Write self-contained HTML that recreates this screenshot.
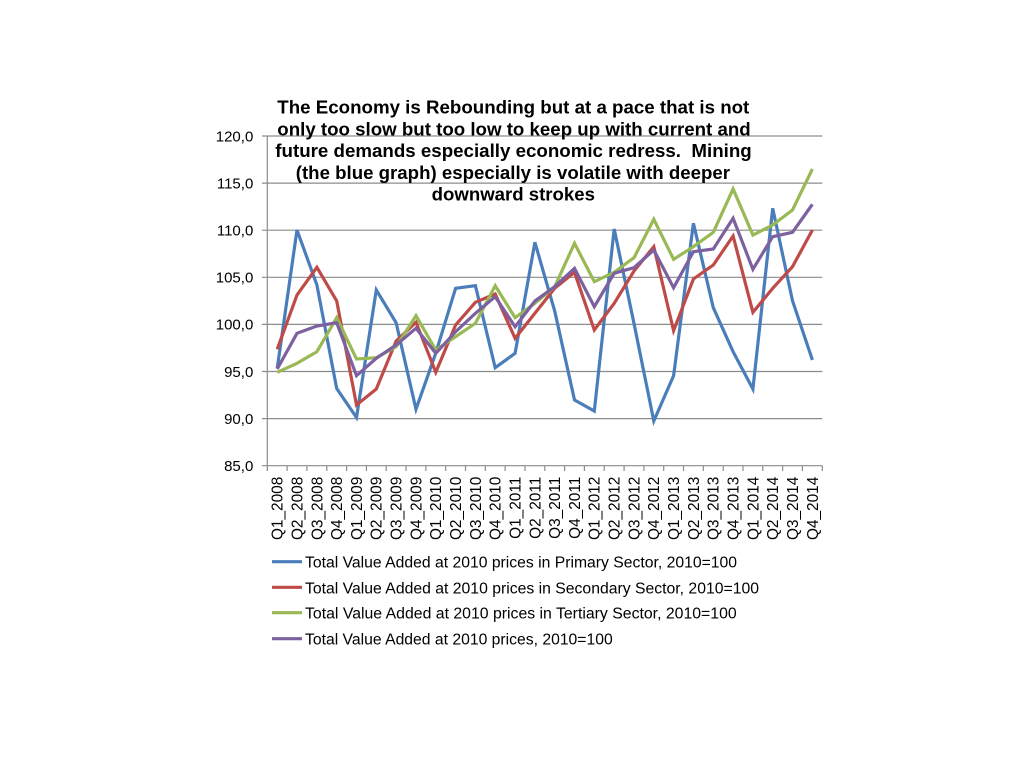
<!DOCTYPE html>
<html>
<head>
<meta charset="utf-8">
<style>
html,body{margin:0;padding:0;background:#fff;}
svg{display:block;}
text{font-family:"Liberation Sans",Arial,sans-serif;fill:#000;}
</style>
</head>
<body>
<svg width="1024" height="768" viewBox="0 0 1024 768" xmlns="http://www.w3.org/2000/svg">
<rect width="1024" height="768" fill="#fff"/>
<!-- gridlines -->
<g stroke="#8c8c8c" stroke-width="1.2" fill="none">
<line x1="262" y1="136" x2="822.3" y2="136"/>
<line x1="262" y1="183.1" x2="822.3" y2="183.1"/>
<line x1="262" y1="230.2" x2="822.3" y2="230.2"/>
<line x1="262" y1="277.3" x2="822.3" y2="277.3"/>
<line x1="262" y1="324.4" x2="822.3" y2="324.4"/>
<line x1="262" y1="371.5" x2="822.3" y2="371.5"/>
<line x1="262" y1="418.6" x2="822.3" y2="418.6"/>
<line x1="262" y1="465.7" x2="822.3" y2="465.7"/>
<line x1="267.3" y1="136" x2="267.3" y2="471"/>
</g>
<!-- x ticks -->
<g stroke="#8c8c8c" stroke-width="1.2">
<line x1="287.1" y1="465.7" x2="287.1" y2="471"/>
<line x1="306.9" y1="465.7" x2="306.9" y2="471"/>
<line x1="326.8" y1="465.7" x2="326.8" y2="471"/>
<line x1="346.6" y1="465.7" x2="346.6" y2="471"/>
<line x1="366.4" y1="465.7" x2="366.4" y2="471"/>
<line x1="386.2" y1="465.7" x2="386.2" y2="471"/>
<line x1="406.0" y1="465.7" x2="406.0" y2="471"/>
<line x1="425.9" y1="465.7" x2="425.9" y2="471"/>
<line x1="445.7" y1="465.7" x2="445.7" y2="471"/>
<line x1="465.5" y1="465.7" x2="465.5" y2="471"/>
<line x1="485.3" y1="465.7" x2="485.3" y2="471"/>
<line x1="505.1" y1="465.7" x2="505.1" y2="471"/>
<line x1="525.0" y1="465.7" x2="525.0" y2="471"/>
<line x1="544.8" y1="465.7" x2="544.8" y2="471"/>
<line x1="564.6" y1="465.7" x2="564.6" y2="471"/>
<line x1="584.4" y1="465.7" x2="584.4" y2="471"/>
<line x1="604.2" y1="465.7" x2="604.2" y2="471"/>
<line x1="624.1" y1="465.7" x2="624.1" y2="471"/>
<line x1="643.9" y1="465.7" x2="643.9" y2="471"/>
<line x1="663.7" y1="465.7" x2="663.7" y2="471"/>
<line x1="683.5" y1="465.7" x2="683.5" y2="471"/>
<line x1="703.3" y1="465.7" x2="703.3" y2="471"/>
<line x1="723.2" y1="465.7" x2="723.2" y2="471"/>
<line x1="743.0" y1="465.7" x2="743.0" y2="471"/>
<line x1="762.8" y1="465.7" x2="762.8" y2="471"/>
<line x1="782.6" y1="465.7" x2="782.6" y2="471"/>
<line x1="802.4" y1="465.7" x2="802.4" y2="471"/>
<line x1="822.3" y1="465.7" x2="822.3" y2="471"/>
</g>
<!-- y labels -->
<g font-size="15" text-anchor="end" fill="#111">
<text x="253.3" y="141.3">120,0</text>
<text x="253.3" y="188.4">115,0</text>
<text x="253.3" y="235.5">110,0</text>
<text x="253.3" y="282.6">105,0</text>
<text x="253.3" y="329.7">100,0</text>
<text x="253.3" y="376.8">95,0</text>
<text x="253.3" y="423.9">90,0</text>
<text x="253.3" y="471.0">85,0</text>
</g>
<!-- x labels -->
<g font-size="15.4" text-anchor="end" fill="#111">
<text transform="translate(282.6,476.7) rotate(-90)">Q1_2008</text>
<text transform="translate(302.4,476.7) rotate(-90)">Q2_2008</text>
<text transform="translate(322.3,476.7) rotate(-90)">Q3_2008</text>
<text transform="translate(342.1,476.7) rotate(-90)">Q4_2008</text>
<text transform="translate(361.9,476.7) rotate(-90)">Q1_2009</text>
<text transform="translate(381.7,476.7) rotate(-90)">Q2_2009</text>
<text transform="translate(401.5,476.7) rotate(-90)">Q3_2009</text>
<text transform="translate(421.4,476.7) rotate(-90)">Q4_2009</text>
<text transform="translate(441.2,476.7) rotate(-90)">Q1_2010</text>
<text transform="translate(461.0,476.7) rotate(-90)">Q2_2010</text>
<text transform="translate(480.8,476.7) rotate(-90)">Q3_2010</text>
<text transform="translate(500.6,476.7) rotate(-90)">Q4_2010</text>
<text transform="translate(520.5,476.7) rotate(-90)">Q1_2011</text>
<text transform="translate(540.3,476.7) rotate(-90)">Q2_2011</text>
<text transform="translate(560.1,476.7) rotate(-90)">Q3_2011</text>
<text transform="translate(579.9,476.7) rotate(-90)">Q4_2011</text>
<text transform="translate(599.7,476.7) rotate(-90)">Q1_2012</text>
<text transform="translate(619.6,476.7) rotate(-90)">Q2_2012</text>
<text transform="translate(639.4,476.7) rotate(-90)">Q3_2012</text>
<text transform="translate(659.2,476.7) rotate(-90)">Q4_2012</text>
<text transform="translate(679.0,476.7) rotate(-90)">Q1_2013</text>
<text transform="translate(698.8,476.7) rotate(-90)">Q2_2013</text>
<text transform="translate(718.7,476.7) rotate(-90)">Q3_2013</text>
<text transform="translate(738.5,476.7) rotate(-90)">Q4_2013</text>
<text transform="translate(758.3,476.7) rotate(-90)">Q1_2014</text>
<text transform="translate(778.1,476.7) rotate(-90)">Q2_2014</text>
<text transform="translate(797.9,476.7) rotate(-90)">Q3_2014</text>
<text transform="translate(817.8,476.7) rotate(-90)">Q4_2014</text>
</g>
<!-- series -->
<g fill="none" stroke-width="3.2" stroke-linejoin="miter" stroke-miterlimit="4">
<polyline stroke="#4a7ebb" points="277.2,368.5 297.0,230 316.9,285 336.7,388.5 356.5,417.5 376.3,290 396.1,322.7 416.0,409.3 435.8,353 455.6,288.3 475.4,285.7 495.2,367.7 515.1,353.3 534.9,242.3 554.7,311 574.5,400 594.3,411 614.2,229 634.0,323.5 653.8,421 673.6,375.7 693.4,223.3 713.3,307.7 733.1,351.7 752.9,389 772.7,208.3 792.5,300.7 812.4,360"/>
<polyline stroke="#be4b48" points="277.2,349.3 297.0,295 316.9,267.3 336.7,301 356.5,405 376.3,389 396.1,341 416.0,322.3 435.8,372.3 455.6,325 475.4,302.3 495.2,294 515.1,338.3 534.9,313.3 554.7,288.3 574.5,272.3 594.3,330 614.2,303.3 634.0,271 653.8,246.7 673.6,330.7 693.4,279 713.3,265 733.1,236 752.9,312.3 772.7,288.3 792.5,266.7 812.4,230"/>
<polyline stroke="#98b954" points="277.2,372.3 297.0,363.3 316.9,351.7 336.7,317.7 356.5,359 376.3,357.7 396.1,346.7 416.0,315.7 435.8,350 455.6,336.7 475.4,323.3 495.2,285.7 515.1,317.7 534.9,303.3 554.7,286.7 574.5,243.3 594.3,281.7 614.2,272.3 634.0,257.7 653.8,219.3 673.6,259.3 693.4,246.7 713.3,232.3 733.1,189 752.9,235 772.7,225 792.5,210 812.4,169"/>
<polyline stroke="#7d60a0" points="277.2,369 297.0,333.3 316.9,326 336.7,322.7 356.5,375.7 376.3,358.3 396.1,345 416.0,328.3 435.8,353.3 455.6,331.7 475.4,313.3 495.2,296.7 515.1,326.7 534.9,301 554.7,286.7 574.5,268.3 594.3,306.7 614.2,273.3 634.0,267.7 653.8,250 673.6,287.7 693.4,251.7 713.3,249 733.1,218.3 752.9,269.3 772.7,236.7 792.5,232.3 812.4,204.3"/>
</g>
<!-- title -->
<g font-size="18" font-weight="bold" text-anchor="middle" fill="#000">
<text x="513.3" y="113.7" textLength="472" lengthAdjust="spacingAndGlyphs">The Economy is Rebounding but at a pace that is not</text>
<text x="514.0" y="135.3" textLength="473.4" lengthAdjust="spacingAndGlyphs">only too slow but too low to keep up with current and</text>
<text x="513.5" y="157.0" textLength="476.4" lengthAdjust="spacingAndGlyphs">future demands especially economic redress.&#160; Mining</text>
<text x="512.9" y="179.0" textLength="434.3" lengthAdjust="spacingAndGlyphs">(the blue graph) especially is volatile with deeper</text>
<text x="513.3" y="200.3" textLength="163.3" lengthAdjust="spacingAndGlyphs">downward strokes</text>
</g>
<!-- legend -->
<g stroke-width="3.2">
<line x1="272" y1="561.7" x2="302" y2="561.7" stroke="#4a7ebb"/>
<line x1="272" y1="587.3" x2="302" y2="587.3" stroke="#be4b48"/>
<line x1="272" y1="612.7" x2="302" y2="612.7" stroke="#98b954"/>
<line x1="272" y1="638.7" x2="302" y2="638.7" stroke="#7d60a0"/>
</g>
<g font-size="15.5" fill="#111">
<text x="305" y="567.7" textLength="432" lengthAdjust="spacingAndGlyphs">Total Value Added at 2010 prices in Primary Sector, 2010=100</text>
<text x="305" y="593.3" textLength="454" lengthAdjust="spacingAndGlyphs">Total Value Added at 2010 prices in Secondary Sector, 2010=100</text>
<text x="305" y="618.7" textLength="431.7" lengthAdjust="spacingAndGlyphs">Total Value Added at 2010 prices in Tertiary Sector, 2010=100</text>
<text x="305" y="644.3" textLength="307.7" lengthAdjust="spacingAndGlyphs">Total Value Added at 2010 prices, 2010=100</text>
</g>
</svg>
</body>
</html>
